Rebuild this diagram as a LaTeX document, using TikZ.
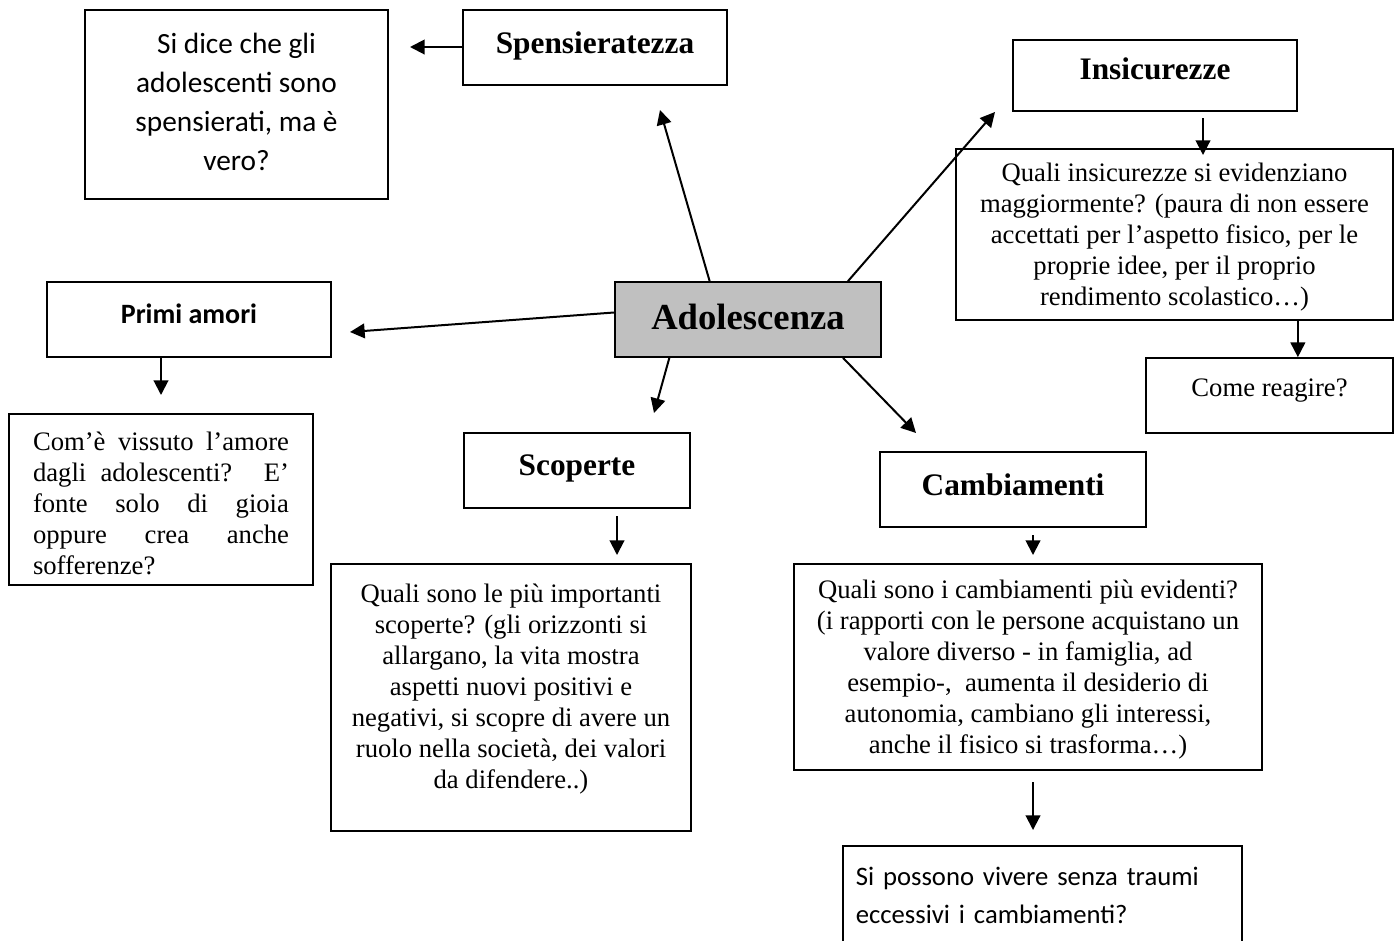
\documentclass[tikz,border=0pt]{standalone}
\usepackage{fontspec}
\setmainfont{Liberation Serif}
\newfontfamily\calibri{Carlito}
\usetikzlibrary{arrows.meta}
\definecolor{adogray}{RGB}{192,192,192}
\newcommand\descsize{\fontsize{20}{23.25}\selectfont}
\newcommand\headsize{\fontsize{23.5}{28}\selectfont\bfseries}
\newcommand\calsize{\calibri\fontsize{22}{29.25}\selectfont}
\tolerance=10000
\hbadness=10000

\begin{document}
\begin{tikzpicture}[x=0.75pt,y=-0.75pt,
	box/.style={rectangle,draw,line width=1.3pt,inner sep=0pt},
	headbox/.style={box,font=\headsize,text depth=8pt,minimum height=56.25pt},
	descbox/.style={box,font=\descsize,align=center},
	conn/.style={line width=1.5pt,-{Triangle[width=11pt,length=11pt]}}]
	
	\useasboundingbox (0,0) rectangle (1394,940);
	
	\node(ado) [box,fill=adogray,font=\fontsize{27.5}{32}\selectfont\bfseries,text depth=4.5pt,minimum width=199.5pt,minimum height=56.25pt] at (748,319.5) {Adolescenza};
	
	\node(spens) [headbox,minimum width=198pt] at (595,47.5) {Spensieratezza};
	
	\node(sidice) [box,font=\calsize,align=center,text depth=4.5pt,minimum width=227.25pt,minimum height=141.75pt] at (236.5,104.5) {Si dice che gli\\adolescenti sono\\spensierati, ma è\\vero?};
	
	\node(insic) [headbox,minimum width=213pt,minimum height=53.25pt,text depth=11pt] at (1155,75.5) {Insicurezze};
	
	\node(insicdesc) [descbox,text depth=-8pt,minimum width=327.75pt,minimum height=128.25pt] at (1174.5,234.5) {Quali insicurezze si evidenziano\\maggiormente? (paura di non essere\\accettati per l’aspetto fisico, per le\\proprie idee, per il proprio\\rendimento scolastico…)};
	
	\node(come) [descbox,minimum width=185.25pt,minimum height=56.25pt,text depth=12pt] at (1269.5,395.5) {Come reagire?};
	
	\node(primi) [box,font=\calibri\fontsize{21}{25}\selectfont\bfseries,text depth=9pt,minimum width=213pt,minimum height=56.25pt] at (189,319.5) {Primi amori};
	
	\node(primidesc) [box,font=\descsize,align=justify,text depth=87pt,text width=192pt,minimum width=228pt,minimum height=128.25pt] at (161,499.5) {Com’è vissuto l’amore\linebreak dagli adolescenti? E’\linebreak fonte solo di gioia\linebreak oppure crea anche\linebreak sofferenze?};
	
	\node(scop) [headbox,minimum width=169.5pt] at (577,470.5) {Scoperte};
	
	\node(scopdesc) [descbox,minimum width=270pt,minimum height=200.25pt,text depth=16.5pt] at (511,697.5) {Quali sono le più importanti\\scoperte? (gli orizzonti si\\allargano, la vita mostra\\aspetti nuovi positivi e\\negativi, si scopre di avere un\\ruolo nella società, dei valori\\da difendere..)};
	
	\node(camb) [headbox,minimum width=199.5pt] at (1013,489.5) {Cambiamenti};
	
	\node(cambdesc) [descbox,text depth=-8pt,minimum width=351pt,minimum height=154.5pt] at (1028,667) {Quali sono i cambiamenti più evidenti?\\(i rapporti con le persone acquistano un\\valore diverso - in famiglia, ad\\esempio-,\ \ aumenta il desiderio di\\autonomia, cambiano gli interessi,\\anche il fisico si trasforma…)};
	
	\node(sipossono) [box,font=\calibri\fontsize{20}{28.5}\selectfont,align=left,text width=280pt,minimum width=299.25pt,minimum height=73.5pt] at (1042.5,895) {Si possono vivere senza traumi\\eccessivi i cambiamenti?};
	
	\coordinate (spenstip) at (410,47);
	\coordinate (adospenstip) at (660,110);
	\coordinate (adoinsictip) at (995,112);
	\coordinate (adoprimitip) at (350,332);
	\coordinate (adoscoptip) at (654,413);
	\coordinate (adocambtip) at (916,433);
	\coordinate (insicfrom) at (1203,118);
	\coordinate (insicto) at (1203,155);
	\coordinate (primito) at (161,395);
	\coordinate (scopfrom) at (617,516);
	\coordinate (scopto) at (617,555);
	\coordinate (cambfrom) at (1033,535);
	\coordinate (cambto) at (1033,555);
	\coordinate (sipfrom) at (1033,782);
	\coordinate (sipto) at (1033,830);
	
	\draw[conn] (spens.west |- spenstip) -- (spenstip);
	
	\draw[conn] (ado.135) -- (adospenstip);
	
	\draw[conn] (ado.21.5) -- (adoinsictip);
	
	\draw[conn] (ado.177) -- (adoprimitip);
	
	\draw[conn] (ado.206) -- (adoscoptip);
	
	\draw[conn] (ado.338.5) -- (adocambtip);
	
	\draw[conn] (insicfrom) -- (insicto);
	
	\draw[conn] (insicdesc.south -| insic.east) -- (come.north -| insic.east);
	
	\draw[conn] (primi.south -| primito) -- (primito);
	
	\draw[conn] (scopfrom) -- (scopto);
	
	\draw[conn] (cambfrom) -- (cambto);
	
	\draw[conn] (sipfrom) -- (sipto);
	
\end{tikzpicture}
\end{document}
